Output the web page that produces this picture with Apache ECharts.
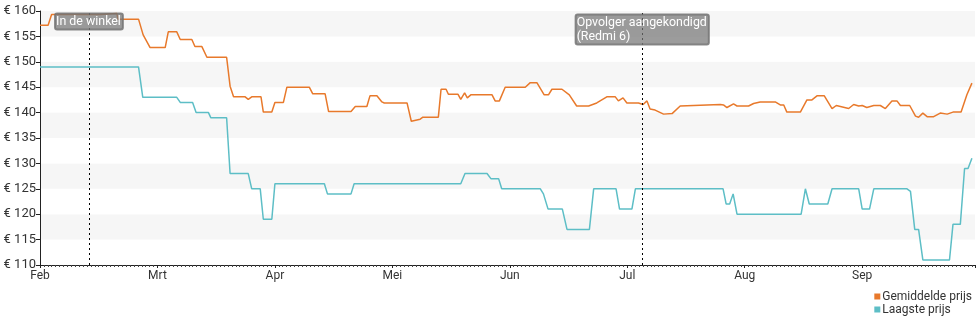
<!DOCTYPE html>
<html>
<head>
<meta charset="utf-8">
<script src="https://cdn.jsdelivr.net/npm/echarts@6/dist/echarts.min.js"></script>
<style>
html,body{margin:0;padding:0;background:#fff;}
#c{width:980px;height:325px;}
</style>
</head>
<body>
<div id="c"></div>
<script>
// x values are days since 1 Feb (axis spaces months evenly, 30.4 days each)
const monthLabels = ['Feb','Mrt','Apr','Mei','Jun','Jul','Aug','Sep'];
const monthLen = 30.4;

const avgDays = [0,2.1,3.0,15.5,15.8,19.9,20.2,25.5,26.7,28.5,32.4,33.2,35.4,36.3,39.3,40.1,41.9,43.2,48.3,49.2,50.1,53.1,53.9,54.8,57.2,57.8,60.0,60.8,63.0,63.9,69.7,70.6,73.8,74.7,80.5,81.6,84.6,85.4,87.2,88.5,89.1,95.0,96.1,98.4,99.1,103.1,103.8,105.1,105.7,108.2,108.9,109.9,110.6,111.5,117.0,117.8,118.9,120.4,125.6,126.9,128.6,130.5,131.6,132.5,135.1,137.0,138.9,142.0,144.1,146.7,148.9,149.7,150.9,151.9,154.9,156.1,157.1,157.9,159.2,161.4,163.6,165.7,176.1,176.9,177.8,179.5,180.4,183.4,184.7,186.4,190.3,191.6,192.5,193.3,196.8,198.5,199.8,201.1,203.0,205.0,206.1,209.3,210.6,211.9,212.8,214.0,215.8,217.5,218.8,220.5,221.8,222.7,225.1,226.6,227.4,228.5,229.6,231.3,233.0,234.8,236.3,238.4,239.9,241.2];
const avgPrices = [157.2,157.2,159.3,159.3,159.5,159.5,158.4,158.4,155.3,152.8,152.8,155.9,155.9,154.4,154.4,153.0,153.0,150.9,150.9,145.2,143.1,143.1,142.6,143.1,143.1,140.1,140.1,142.0,142.0,145.0,145.0,143.7,143.7,140.2,140.2,141.2,141.2,143.3,143.3,142.1,141.9,141.9,138.3,138.7,139.1,139.1,144.6,144.6,143.6,143.6,142.6,143.9,142.9,143.5,143.5,142.3,142.3,145.0,145.0,145.9,145.9,143.5,143.5,144.6,144.6,143.5,141.3,141.3,141.9,143.1,143.1,142.3,142.9,141.9,141.9,141.6,142.3,140.7,140.5,139.7,139.8,141.3,141.6,141.5,141.0,141.7,141.3,141.3,141.8,142.1,142.1,141.5,141.5,140.1,140.1,142.5,142.5,143.3,143.3,140.8,141.4,140.8,141.6,141.3,141.4,141.0,141.4,141.4,140.8,142.3,142.3,141.4,141.4,139.3,139.1,139.9,139.2,139.2,139.9,139.7,140.1,140.1,143.5,145.8];

const lowDays = [0,25.5,26.6,35.4,36.3,39.5,40.4,43.6,44.2,48.3,49.2,53.9,54.8,57.0,57.8,60.0,60.8,73.6,74.4,80.5,81.3,108.9,110.0,115.7,116.7,118.7,119.5,129.5,130.3,131.5,135.2,136.4,142.2,143.3,149.1,150.0,153.2,154.1,176.8,177.6,178.5,179.4,180.4,197.0,198.1,199.1,203.9,205.0,211.9,212.8,214.7,215.8,224.4,225.3,226.4,227.4,228.5,235.4,236.3,238.2,239.3,240.2,241.2];
const lowPrices = [149,149,143,143,142,142,140,140,139,139,128,128,125,125,119,119,126,126,124,124,126,126,128,128,127,127,125,125,124,121,121,117,117,125,125,121,121,125,125,122,122,124,120,120,125,122,122,125,125,121,121,125,125,124.5,117,117,111,111,118,118,129,129,131];

const eventDays = [12.8, 156.0];
const eventTexts = ['In de winkel', 'Opvolger aangekondigd\n(Redmi 6)'];
const eventLabelY = [159.4, 159.2];

const seriesNames = ['Gemiddelde prijs','Laagste prijs'];
const colors = ['#e8792b','#5dbec6'];

const zip = (a,b) => a.map((v,i)=>[v,b[i]]);

const chart = echarts.init(document.getElementById('c'), null, {renderer:'canvas'});
const font = 'Roboto, "Noto Sans", sans-serif';

chart.setOption({
  animation:false,
  textStyle:{fontFamily:font},
  grid:{left:40,right:5,top:11,bottom:60,containLabel:false},
  legend:{
    orient:'vertical', right:8, top:290, height:40, itemWidth:6, itemHeight:6, itemGap:0,
    icon:'rect', data:seriesNames, padding:0,
    textStyle:{fontFamily:font,fontSize:12,color:'#333',lineHeight:13,padding:[0,0,0,-3]}
  },
  xAxis:{
    type:'value', min:0, max:242, interval:monthLen,
    axisLine:{show:true,lineStyle:{color:'#222',width:1}},
    axisTick:{show:true,length:3,lineStyle:{color:'#222'}},
    minorTick:{show:true,splitNumber:30,length:2,lineStyle:{color:'#444'}},
    splitLine:{show:false},
    axisLabel:{
      fontFamily:font,fontSize:12,color:'#333',margin:5,showMaxLabel:false,
      formatter:(v)=>{const k=Math.round(v/monthLen); return Math.abs(v-k*monthLen)<0.01 && monthLabels[k]? monthLabels[k] : '';}
    }
  },
  yAxis:{
    type:'value', min:110, max:160, interval:5,
    axisLine:{show:true,lineStyle:{color:'#222',width:1}},
    axisTick:{show:true,length:4,lineStyle:{color:'#222'}},
    splitLine:{show:false},
    splitArea:{show:true,areaStyle:{color:['#ffffff','#f6f6f6']}},
    axisLabel:{fontFamily:font,fontSize:13,color:'#333',margin:4,formatter:(v)=>'€ '+v}
  },
  series:[
    {
      name:seriesNames[0], type:'line', data:zip(avgDays,avgPrices),
      showSymbol:false, symbol:'none', color:colors[0],
      lineStyle:{width:1.5,color:colors[0]}, z:3,
      markLine:{
        silent:true, symbol:'none', label:{show:false},
        lineStyle:{type:[2,3],color:'#000',width:1},
        data:eventDays.map(d=>({xAxis:d}))
      },
      markPoint:{
        silent:true, symbol:'rect', symbolSize:1, itemStyle:{color:'rgba(0,0,0,0)'},
        data:eventDays.map((d,i)=>({
          coord:[d,eventLabelY[i]], value:eventTexts[i],
          label:{
            show:true, position:[0,0], align:'center', verticalAlign:'top',
            formatter:eventTexts[i].split('\n').map(s=>'{t|'+s+'}').join('\n'),
            rich:{t:{color:'#fff',fontSize:12.4,fontFamily:font,lineHeight:14,align:'left'}},
            padding:[1,2,1,1], borderRadius:2,
            backgroundColor:'rgba(118,118,118,0.72)',
            borderColor:'rgba(110,110,110,0.8)', borderWidth:1
          }
        }))
      }
    },
    {
      name:seriesNames[1], type:'line', data:zip(lowDays,lowPrices),
      showSymbol:false, symbol:'none', color:colors[1],
      lineStyle:{width:1.5,color:colors[1]}, z:3
    }
  ]
});
</script>
</body>
</html>
